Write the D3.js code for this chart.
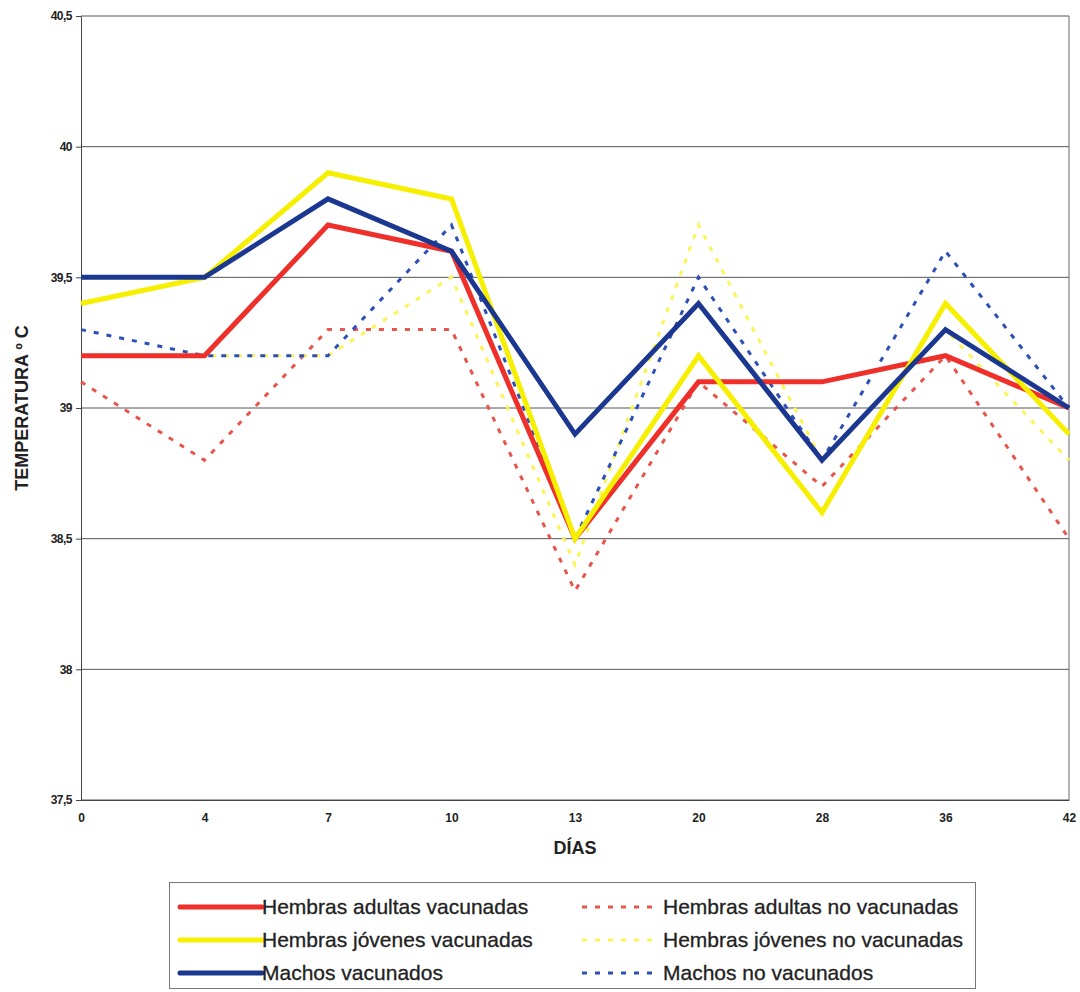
<!DOCTYPE html>
<html>
<head>
<meta charset="utf-8">
<script src="https://cdn.jsdelivr.net/npm/d3@7"></script>
<style>
  body { margin: 0; background: #fff; }
  svg text { font-family: "Liberation Sans", Arial, sans-serif; fill: #222; }
</style>
</head>
<body>
<div id="chart"></div>
<script>
// Categories (days) and y ticks
const days = ["0", "4", "7", "10", "13", "20", "28", "36", "42"];
const yTicks = [37.5, 38, 38.5, 39, 39.5, 40, 40.5];

// Series values
const adultasVac   = [39.2, 39.2, 39.7, 39.6, 38.5, 39.1, 39.1, 39.2, 39.0];
const jovenesVac   = [39.4, 39.5, 39.9, 39.8, 38.5, 39.2, 38.6, 39.4, 38.9];
const machosVac    = [39.5, 39.5, 39.8, 39.6, 38.9, 39.4, 38.8, 39.3, 39.0];
const adultasNoVac = [39.1, 38.8, 39.3, 39.3, 38.3, 39.1, 38.7, 39.2, 38.5];
const jovenesNoVac = [39.2, 39.2, 39.2, 39.5, 38.4, 39.7, 38.8, 39.3, 38.8];
const machosNoVac  = [39.3, 39.2, 39.2, 39.7, 38.5, 39.5, 38.8, 39.6, 39.0];

const seriesNames = [
  "Hembras adultas vacunadas", "Hembras jóvenes vacunadas", "Machos vacunados",
  "Hembras adultas no vacunadas", "Hembras jóvenes no vacunadas", "Machos no vacunados"
];

// styles per series (same order as names)
const series = [
  { name: seriesNames[0], values: adultasVac,   color: "#ee2f2a", width: 5, dash: null },
  { name: seriesNames[1], values: jovenesVac,   color: "#f7ef00", width: 5, dash: null },
  { name: seriesNames[2], values: machosVac,    color: "#1b3790", width: 5, dash: null },
  { name: seriesNames[3], values: adultasNoVac, color: "#e8554c", width: 3, dash: "5,8" },
  { name: seriesNames[4], values: jovenesNoVac, color: "#fbf55a", width: 3, dash: "5,8" },
  { name: seriesNames[5], values: machosNoVac,  color: "#2c4fb8", width: 3, dash: "5,8" }
];

const W = 1080, H = 992;
const margin = { top: 16, right: 11, bottom: 192, left: 81 };
const width = W - margin.left - margin.right;
const height = H - margin.top - margin.bottom;

const svg = d3.select("#chart").append("svg")
  .attr("width", W)
  .attr("height", H);

const g = svg.append("g")
  .attr("transform", "translate(" + margin.left + "," + margin.top + ")");

// scales
const x = d3.scalePoint().domain(days).range([0, width]);
const y = d3.scaleLinear().domain([37.5, 40.5]).range([height, 0]);

const fmt = d => String(d).replace(".", ",");

// gridlines
g.append("g")
  .selectAll("line")
  .data(yTicks)
  .enter().append("line")
  .attr("x1", 0).attr("x2", width)
  .attr("y1", d => y(d)).attr("y2", d => y(d))
  .attr("stroke", "#555")
  .attr("stroke-width", 1);

// right border
g.append("line")
  .attr("x1", width).attr("x2", width)
  .attr("y1", 0).attr("y2", height)
  .attr("stroke", "#666");

// y axis
const yAxis = g.append("g")
  .call(d3.axisLeft(y).tickValues(yTicks).tickFormat(fmt).tickSize(5).tickSizeOuter(0));
yAxis.select(".domain").attr("stroke", "#444");
yAxis.selectAll(".tick line").attr("stroke", "#444");
yAxis.selectAll("text")
  .attr("x", -9)
  .style("font-size", "12px")
  .style("font-weight", "bold")
  .style("letter-spacing", "-0.5px");

// x axis
const xAxis = g.append("g")
  .attr("transform", "translate(0," + height + ")")
  .call(d3.axisBottom(x).tickSize(0).tickSizeOuter(0));
xAxis.select(".domain").attr("stroke", "#444");
xAxis.selectAll("text")
  .attr("y", 13)
  .style("font-size", "12px")
  .style("font-weight", "bold");

// axis titles
svg.append("text")
  .attr("transform", "translate(28," + (margin.top + y(39)) + ") rotate(-90)")
  .attr("text-anchor", "middle")
  .style("font-size", "18px")
  .style("font-weight", "bold")
  .text("TEMPERATURA º C");

svg.append("text")
  .attr("x", margin.left + x("13"))
  .attr("y", 854)
  .attr("text-anchor", "middle")
  .style("font-size", "18px")
  .style("font-weight", "bold")
  .text("DÍAS");

// lines: dashed first, then solid ones on top
const line = d3.line()
  .x((d, i) => x(days[i]))
  .y(d => y(d));

const drawOrder = [3, 4, 5, 0, 1, 2];
drawOrder.forEach(k => {
  const s = series[k];
  g.append("path")
    .datum(s.values)
    .attr("d", line)
    .attr("fill", "none")
    .attr("stroke", s.color)
    .attr("stroke-width", s.width)
    .attr("stroke-linejoin", "miter")
    .attr("stroke-dasharray", s.dash);
});

// legend
const legend = svg.append("g");
legend.append("rect")
  .attr("x", 169.5).attr("y", 882.5)
  .attr("width", 806).attr("height", 106)
  .attr("fill", "#fff")
  .attr("stroke", "#777");

const colX = [180, 582];
const textX = [262, 663];
const rowY = [907, 940, 973];

series.forEach((s, i) => {
  const col = Math.floor(i / 3), row = i % 3;
  const ly = rowY[row];
  legend.append("line")
    .attr("x1", colX[col]).attr("x2", col === 0 ? 262 : 656)
    .attr("y1", ly).attr("y2", ly)
    .attr("stroke", s.color)
    .attr("stroke-width", s.width)
    .attr("stroke-linecap", col === 0 ? "round" : "butt")
    .attr("stroke-dasharray", s.dash);
  legend.append("text")
    .attr("x", textX[col])
    .attr("y", ly + 7)
    .style("font-size", "21px")
    .style("stroke", "#222")
    .style("stroke-width", "0.3px")
    .text(s.name);
});
</script>
</body>
</html>
